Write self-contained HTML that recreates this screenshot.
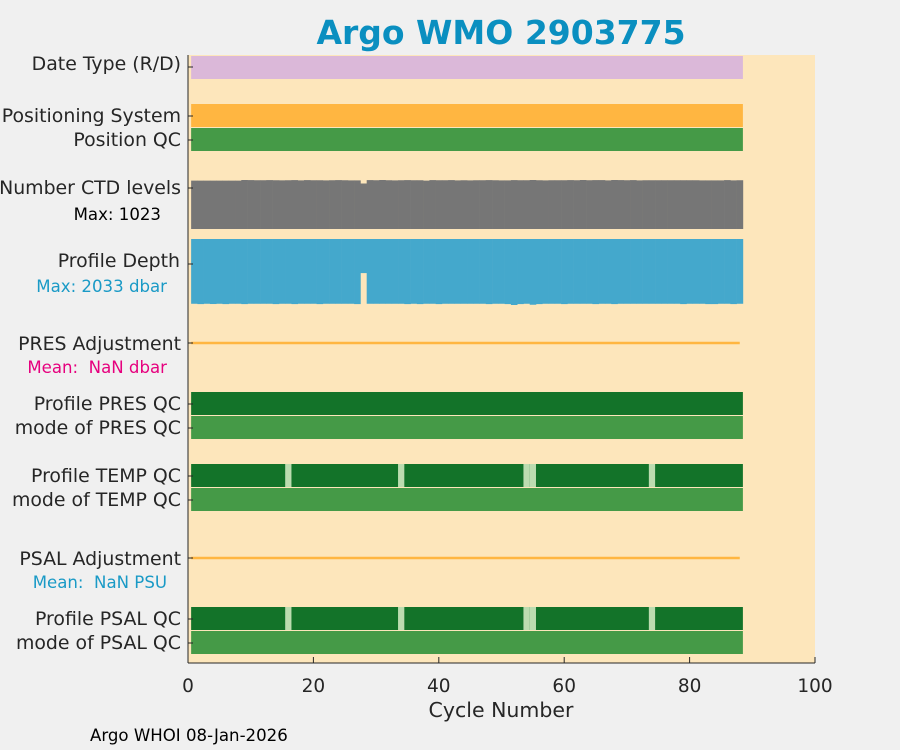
<!DOCTYPE html>
<html><head><meta charset="utf-8"><style>
html,body{margin:0;padding:0;background:#f0f0f0;}
svg{display:block;font-family:"DejaVu Sans","Liberation Sans",sans-serif;}
</style></head><body>
<svg id="chart" width="900" height="750" viewBox="0 0 900 750">
<rect x="0" y="0" width="900" height="750" fill="#f0f0f0"/>
<text x="501" y="44" text-anchor="middle" font-size="33" font-weight="bold" fill="#0a8fc0">Argo WMO 2903775</text>
<rect x="188" y="55" width="627" height="608" fill="#fde6bb"/>
<g id="marks"></g>
<g id="axes"></g>
<g id="labels" font-size="18.9" fill="#262626" text-anchor="end">
<text x="181" y="70">Date Type (R/D)</text>
<text x="181" y="122">Positioning System</text>
<text x="181" y="146">Position QC</text>
<text x="181" y="194">Number CTD levels</text>
<text x="161" y="220" font-size="16.6" fill="#000">Max: 1023</text>
<text x="180" y="267">Profile Depth</text>
<text x="167" y="292" font-size="16.6" fill="#1a9ac6">Max: 2033 dbar</text>
<text x="181" y="350">PRES Adjustment</text>
<text x="167" y="373" font-size="16.6" fill="#e6007e">Mean:&#160; NaN dbar</text>
<text x="181" y="410">Profile PRES QC</text>
<text x="181" y="434">mode of PRES QC</text>
<text x="181" y="482">Profile TEMP QC</text>
<text x="181" y="506">mode of TEMP QC</text>
<text x="181" y="565">PSAL Adjustment</text>
<text x="167" y="588" font-size="16.6" fill="#1a9ac6">Mean:&#160; NaN PSU</text>
<text x="181" y="625">Profile PSAL QC</text>
<text x="181" y="649">mode of PSAL QC</text>
</g>
<text x="501" y="717" text-anchor="middle" font-size="20.5" fill="#262626">Cycle Number</text>
<text x="90" y="741" font-size="16.6" fill="#000">Argo WHOI 08-Jan-2026</text>
</svg>
<script>
const xTicks = [0, 20, 40, 60, 80, 100];
const nCycles = 88;
const ctdLevels = [1010,1010,1010,1010,1010,1010,1010,1010,1023,1021,1018,1018,1021,1018,1016,1018,1021,1015,1021,1018,1018,1015,1018,1021,1018,1015,1015,950,1021,1018,1023,1018,1015,1018,1021,1018,1018,1010,1021,1018,1018,1021,1015,1018,1015,1018,1018,1021,1018,1015,1015,1021,1018,1018,1023,1018,1015,1018,1018,1018,1021,1018,1023,1018,1021,1021,1015,1023,1021,1018,1021,1015,1018,1018,1018,1018,1018,1018,1018,1018,1018,1015,1015,1015,1015,1021,1015,1018];
const profileDepth = [1995,2005,1995,2003,1995,2005,1995,1995,2005,1995,1995,1995,1995,2005,1995,1995,2005,1995,1995,1995,2005,1995,1995,1995,1995,1995,2005,1050,1995,1995,1995,1995,1995,1995,2005,1995,2005,1995,1995,2005,1995,1995,1995,1995,1995,1995,1995,2005,1995,1995,2005,2033,2005,1995,2025,2005,1995,1995,1995,2005,1995,1995,1995,1995,2005,1995,1995,2005,1995,1995,1995,1995,1995,1995,1995,1995,1995,1995,2005,1995,1995,1995,2005,2005,1995,1995,2005,1995];
const badQcCycles = [16, 34, 54, 55, 74];
const ctdMax = 1023, depthMax = 2033;

const NS = "http://www.w3.org/2000/svg";
const marks = document.getElementById('marks');
const axes = document.getElementById('axes');
const X0 = 188, X1 = 815;
function xScale(v){ return X0 + (v / 100) * (X1 - X0); }
function mk(tag, attrs, parent){
  const e = document.createElementNS(NS, tag);
  for (const k in attrs) e.setAttribute(k, attrs[k]);
  parent.appendChild(e);
  return e;
}
const xa = xScale(0.5), xb = xScale(nCycles + 0.5);
const rows = [
  ['date-type-row', 56, 23, '#dbb8d9'],
  ['positioning-system-row', 104, 23, '#ffb641'],
  ['position-qc-row', 128, 23, '#459a47'],
  ['profile-pres-qc-row', 392, 23, '#137329'],
  ['mode-pres-qc-row', 416, 23, '#459a47'],
  ['profile-temp-qc-row', 464, 23, '#137329'],
  ['mode-temp-qc-row', 488, 23, '#459a47'],
  ['profile-psal-qc-row', 607, 23, '#137329'],
  ['mode-psal-qc-row', 631, 23, '#459a47']
];
rows.forEach(r => {
  const e = mk('rect', {x: xa, y: r[1], width: xb - xa, height: r[2], fill: r[3]}, marks);
  
  
});
[464, 607].forEach((y, j) => {
  badQcCycles.forEach(c => {
    const e = mk('rect', {x: xScale(c - 0.5), y: y, width: xScale(c + 0.5) - xScale(c - 0.5), height: 23, fill: '#bcdcb0'}, marks);
    
    
  });
});
const ctdBottom = 229, ctdH = 49;
ctdLevels.forEach((v, i) => {
  const c = i + 1, h = v / ctdMax * ctdH;
  const e = mk('rect', {x: xScale(c - 0.5), y: ctdBottom - h, width: xScale(c + 0.5) - xScale(c - 0.5) + 0.3, height: h, fill: '#767676'}, marks);
  
  
});
const depthTop = 239, depthH = 66;
profileDepth.forEach((v, i) => {
  const c = i + 1, h = v / depthMax * depthH;
  const e = mk('rect', {x: xScale(c - 0.5), y: depthTop, width: xScale(c + 0.5) - xScale(c - 0.5) + 0.3, height: h, fill: '#44a8cc'}, marks);
  
  
});
[[343, 'pres-adjustment-line'], [558, 'psal-adjustment-line']].forEach(l => {
  const e = mk('line', {x1: xScale(0.5), x2: xScale(nCycles), y1: l[0], y2: l[0], stroke: '#ffb641', 'stroke-width': 2.5}, marks);
  
  
});
let e = mk('line', {x1: X0, x2: X0, y1: 55, y2: 663, stroke: '#262626', 'stroke-width': 1}, axes);


e = mk('line', {x1: X0, x2: X1, y1: 663, y2: 663, stroke: '#262626', 'stroke-width': 1}, axes);


[67, 116, 140, 188, 264, 343, 404, 428, 476, 500, 558, 619, 643].forEach(y => {
  const t = mk('line', {x1: X0, x2: X0 + 5, y1: y, y2: y, stroke: '#262626'}, axes);
  
  
});
xTicks.forEach(v => {
  const t = mk('line', {x1: xScale(v), x2: xScale(v), y1: 663, y2: 657, stroke: '#262626'}, axes);
  
  
  const l = mk('text', {x: xScale(v), y: 692, 'text-anchor': 'middle', 'font-size': 18.5, fill: '#262626'}, axes);
  l.textContent = v;
  
  
});
</script>
</body></html>
